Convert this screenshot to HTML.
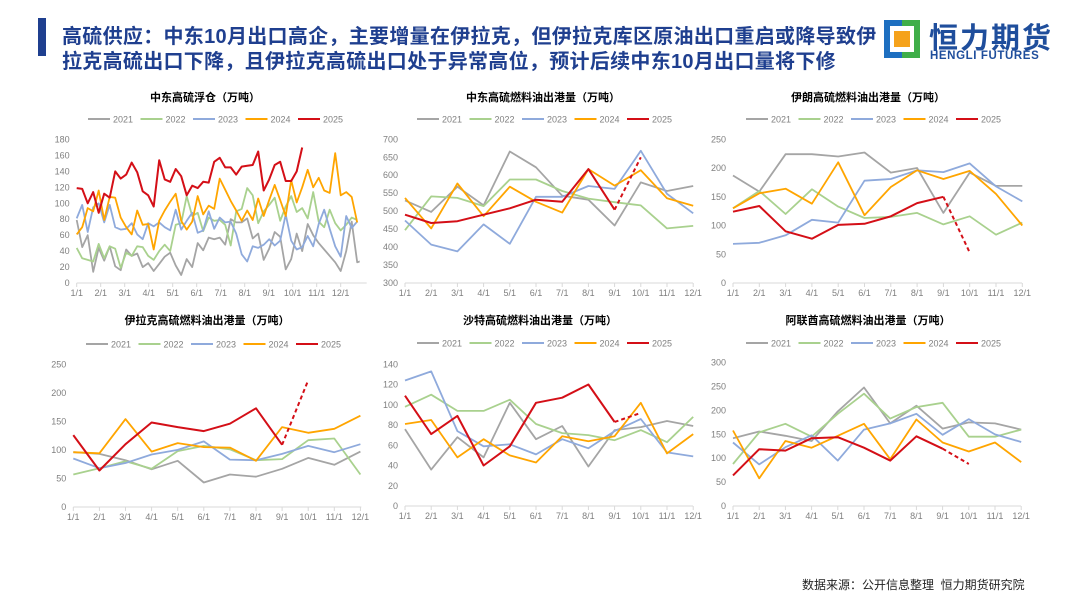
<!DOCTYPE html>
<html><head><meta charset="utf-8">
<style>
body{margin:0;width:1080px;height:608px;background:#fff;overflow:hidden;font-family:"Liberation Sans","Noto Sans CJK SC",sans-serif;position:relative}
.hdr{position:absolute;left:62px;top:25px;font-size:20px;font-weight:bold;color:#1f3f8f;line-height:25px;letter-spacing:0.3px;white-space:nowrap}
svg{position:absolute;left:0;top:0}
</style></head><body>
<div style="position:absolute;left:38px;top:18px;width:8px;height:38px;background:#1f3f8f"></div>
<div class="hdr">高硫供应：中东10月出口高企，主要增量在伊拉克，但伊拉克库区原油出口重启或降导致伊<br>拉克高硫出口下降，且伊拉克高硫出口处于异常高位，预计后续中东10月出口量将下修</div>
<div style="position:absolute;left:884px;top:20px;width:36px;height:38px">
 <div style="position:absolute;left:0;top:0;width:18px;height:38px;background:#1e6fc0"></div>
 <div style="position:absolute;left:18px;top:0;width:18px;height:38px;background:#3fae49"></div>
 <div style="position:absolute;left:6px;top:6px;width:24px;height:26px;background:#fff"></div>
 <div style="position:absolute;left:10px;top:11px;width:16px;height:16px;background:#f5a21b"></div>
</div>
<div style="position:absolute;left:929px;top:15px;font-size:29px;font-weight:bold;color:#1f4e9c;letter-spacing:2px">恒力期货</div>
<div style="position:absolute;left:930px;top:50px;font-size:11.5px;font-weight:bold;color:#1f4e9c;letter-spacing:0.6px">HENGLI FUTURES</div>
<div style="position:absolute;left:802px;top:576px;font-size:12px;color:#222">数据来源：公开信息整理&nbsp; 恒力期货研究院</div>
<svg id="s" width="1080" height="608" xmlns="http://www.w3.org/2000/svg"></svg>
<script>
const years=['2021','2022','2023','2024','2025'];
const colors=['#a5a5a5','#a9d18e','#8faadc','#ffa500','#d40f17'];
const months=['1/1','2/1','3/1','4/1','5/1','6/1','7/1','8/1','9/1','10/1','11/1','12/1'];
const fs2021=[79,45,60,14,44,28,46,21,16,42,34,37,20,25,15,24,33,38,22,10,30,20,50,41,57,55,57,48,80,76,76,81,56,62,29,43,64,58,17,30,62,40,74,60,50,42,34,26,15,40,77,26,28];
const fs2022=[44,31,29,27,49,31,46,43,19,38,34,46,45,34,29,40,48,40,73,75,109,84,88,65,82,78,79,73,47,90,93,119,110,75,90,98,107,78,96,109,89,94,81,114,77,70,92,75,66,73,82,79];
const fs2023=[81,98,64,95,100,76,98,70,67,68,75,61,55,75,71,76,70,66,92,67,78,88,63,66,90,68,82,76,77,62,36,27,46,44,48,55,47,53,86,53,42,45,59,46,74,92,68,46,33,84,69,77];
const fs2024=[61,70,94,90,116,79,108,107,82,70,61,91,73,74,42,78,91,102,112,78,67,77,109,86,97,93,131,117,103,91,78,91,79,106,84,104,123,104,84,129,101,120,142,120,132,116,113,163,110,114,108,76];
const fs2025=[119,118,100,114,88,112,107,140,131,136,151,139,115,110,96,154,130,127,143,134,110,122,119,127,126,152,157,145,145,136,146,147,148,165,116,130,148,152,128,128,140,170];
const me2021=[530,498,568,516,666,622,543,532,460,580,556,570];
const me2022=[447,541,537,514,588,588,556,535,525,516,452,459];
const me2023=[474,407,388,463,409,540,540,570,562,668,548,494];
const me2024=[537,452,577,486,568,526,496,617,571,614,536,515];
const me2025=[490,467,472,490,508,532,526,617,504];
const meFc=650;
const ir2021=[187,159,224,224,220,227,192,200,122,192,169,169];
const ir2022=[130,160,120,163,133,113,115,122,102,116,84,105];
const ir2023=[68,70,83,110,105,178,181,196,193,208,168,142];
const ir2024=[130,156,164,138,210,118,167,196,181,195,155,100];
const ir2025=[124,134,90,77,101,103,116,139,150];
const irFc=53;
const iq2021=[96,93,82,66,81,43,57,53,67,86,74,97];
const iq2022=[57,68,80,67,98,107,101,82,84,117,120,57];
const iq2023=[85,68,77,92,100,115,83,82,93,107,96,110];
const iq2024=[96,94,154,97,112,105,104,81,140,130,137,160];
const iq2025=[126,64,110,148,140,133,146,173,109];
const iqFc=222;
const sa2021=[76,36,68,48,102,66,79,39,75,78,84,79];
const sa2022=[98,110,94,94,105,81,72,70,65,75,63,88];
const sa2023=[124,133,74,59,61,51,66,57,74,86,53,49];
const sa2024=[81,85,48,66,50,43,69,64,69,102,52,71];
const sa2025=[109,71,89,40,59,102,107,120,83];
const saFc=92;
const ae2021=[142,156,147,136,198,248,173,210,162,175,173,160];
const ae2022=[88,154,172,145,193,235,183,207,216,145,145,160];
const ae2023=[133,87,123,148,95,160,173,193,149,182,150,134];
const ae2024=[158,58,136,122,147,172,98,181,133,114,133,92];
const ae2025=[64,119,116,142,144,122,95,146,120];
const aeFc=88;
const yt1=[0,20,40,60,80,100,120,140,160,180];
const yt2=[300,350,400,450,500,550,600,650,700];
const yt3=[0,50,100,150,200,250];
const yt5=[0,20,40,60,80,100,120,140];
const yt6=[0,50,100,150,200,250,300];

const svg=document.getElementById('s');const NS='http://www.w3.org/2000/svg';
function mk(t,a,p){const e=document.createElementNS(NS,t);for(const k in a)e.setAttribute(k,a[k]);(p||svg).appendChild(e);return e;}
let cid=0;
function chart(o){
 cid++;
 const g=mk('g',{});
 
 
 const cp=mk('clipPath',{id:'c'+cid},g);mk('rect',{x:o.x0-2,y:o.y1-10,width:o.clipW,height:o.y0-o.y1+12},cp);
 const ymin=o.ticks[0],ymax=o.ticks[o.ticks.length-1];
 const Y=v=>o.y0-(v-ymin)/(ymax-ymin)*(o.y0-o.y1);
 const X=i=>o.x0+i*o.step;
 const t=mk('text',{x:o.tx,y:o.ty,'font-size':11,'font-weight':'bold','text-anchor':'middle',fill:'#000'},g);t.textContent=o.title;
 
 
 years.forEach((yr,k)=>{const lx=o.lx+k*52.5;
  const le=mk('g',{},g);
  
  
  mk('line',{x1:lx,y1:o.ly,x2:lx+22,y2:o.ly,stroke:colors[k],'stroke-width':2},le);
  const tt=mk('text',{x:lx+25,y:o.ly+3.5,'font-size':9,fill:'#7f7f7f'},le);tt.textContent=yr;});
 o.ticks.forEach(v=>{const tt=mk('text',{x:o.x0-7,y:Y(v)+3,'font-size':9,fill:'#7f7f7f','text-anchor':'end'},g);tt.textContent=v;});
 const ax=mk('line',{x1:o.x0,y1:o.y0,x2:o.x0+o.axisW,y2:o.y0,stroke:'#d9d9d9','stroke-width':1},g);
 
 
 months.forEach((m,i)=>{const mx=o.mx0+i*o.mstep;
  mk('line',{x1:mx,y1:o.y0,x2:mx,y2:o.y0+4,stroke:'#d9d9d9'},g);
  const tt=mk('text',{x:mx,y:o.y0+13,'font-size':9,fill:'#7f7f7f','text-anchor':'middle'},g);tt.textContent=m;});
 const lg=mk('g',{'clip-path':'url(#c'+cid+')'},g);
 o.series.forEach((s,k)=>{const pts=s.map((v,i)=>X(i).toFixed(1)+','+Y(v).toFixed(1)).join(' ');
  const pl=mk('polyline',{points:pts,fill:'none',stroke:colors[k],'stroke-width':k==4?2:1.8,'stroke-linejoin':'round'},lg);
  
  });
 if(o.fc!==undefined){const s=o.series[4];const n=s.length-1;
  const d=mk('line',{x1:X(n),y1:Y(s[n]),x2:X(n+1),y2:Y(o.fc),stroke:colors[4],'stroke-width':2,'stroke-dasharray':'4,3'},lg);
  
  }
}
chart({name:'chart-me-floating-storage',title:'中东高硫浮仓（万吨）',tx:205,ty:101,lx:88,ly:119,x0:76.7,step:5.5,clipW:285,y0:283,y1:139.5,ticks:yt1,axisW:290,mx0:76.7,mstep:24,series:[fs2021,fs2022,fs2023,fs2024,fs2025]});
chart({name:'chart-me-exports',title:'中东高硫燃料油出港量（万吨）',tx:543,ty:101,lx:417,ly:119,x0:405,step:26.2,clipW:300,y0:283,y1:139.3,ticks:yt2,axisW:288,mx0:405,mstep:26.2,series:[me2021,me2022,me2023,me2024,me2025],fc:meFc});
chart({name:'chart-iran-exports',title:'伊朗高硫燃料油出港量（万吨）',tx:868,ty:101,lx:746,ly:119,x0:733,step:26.3,clipW:300,y0:283,y1:139.3,ticks:yt3,axisW:289,mx0:733,mstep:26.3,series:[ir2021,ir2022,ir2023,ir2024,ir2025],fc:irFc});
chart({name:'chart-iraq-exports',title:'伊拉克高硫燃料油出港量（万吨）',tx:207,ty:324,lx:86,ly:344,x0:73.3,step:26.1,clipW:300,y0:507,y1:364.3,ticks:yt3,axisW:288,mx0:73.3,mstep:26.1,series:[iq2021,iq2022,iq2023,iq2024,iq2025],fc:iqFc});
chart({name:'chart-saudi-exports',title:'沙特高硫燃料油出港量（万吨）',tx:540,ty:324,lx:417,ly:343,x0:405,step:26.2,clipW:300,y0:506,y1:364.3,ticks:yt5,axisW:288,mx0:405,mstep:26.2,series:[sa2021,sa2022,sa2023,sa2024,sa2025],fc:saFc});
chart({name:'chart-uae-exports',title:'阿联酋高硫燃料油出港量（万吨）',tx:868,ty:324,lx:746,ly:343,x0:733,step:26.2,clipW:300,y0:506,y1:362.7,ticks:yt6,axisW:288,mx0:733,mstep:26.2,series:[ae2021,ae2022,ae2023,ae2024,ae2025],fc:aeFc});
</script>
</body></html>
